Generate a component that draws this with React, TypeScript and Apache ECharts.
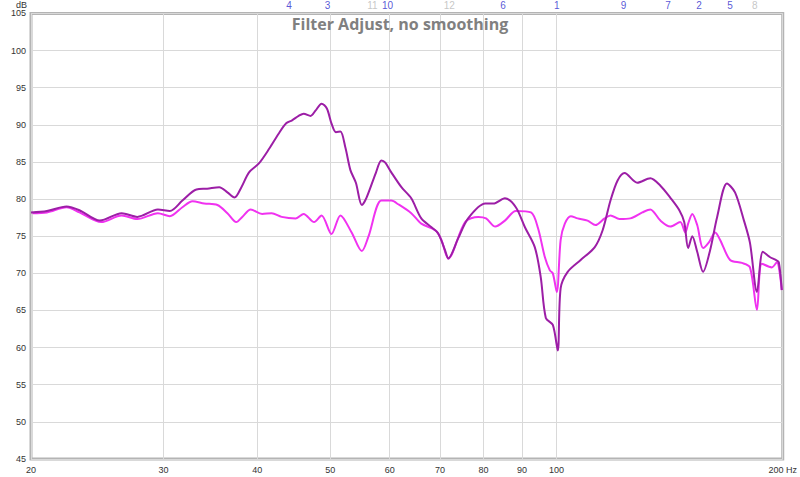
import React, { useEffect, useRef } from 'react';
import * as echarts from 'echarts';

const xTickValues = [20, 30, 40, 50, 60, 70, 80, 90, 100, 200];
const yMin = 45;
const yMax = 105;
const yStep = 5;

const freqA = [20.0, 21.0, 22.3, 23.2, 24.7, 26.4, 27.7, 29.5, 30.6, 31.8, 33.2, 34.3, 35.6, 36.5, 37.3, 38.1, 39.0, 40.2, 41.5, 42.7, 43.7, 44.5, 45.4, 46.1, 47.1, 47.8, 48.7, 49.5, 50.2, 50.9, 51.6, 52.4, 53.2, 54.1, 55.1, 55.9, 57.5, 58.5, 59.2, 60.3, 62.2, 64.1, 66.1, 68.2, 69.6, 71.1, 71.8, 74.0, 76.3, 80.4, 82.4, 85.4, 88.3, 90.8, 93.6, 95.3, 96.8, 98.9, 100.4, 101.3, 103.5, 107.7, 112.4, 115.2, 118.0, 120.6, 123.2, 128.1, 133.3, 137.5, 141.7, 145.7, 147.9, 149.7, 151.6, 153.9, 156.7, 160.1, 163.6, 168.6, 172.8, 177.6, 180.9, 184.8, 188.2, 192.2, 195.8, 197.6, 199.4];
const dbA = [78.2, 78.4, 79.0, 78.5, 77.1, 78.1, 77.6, 78.6, 78.4, 79.8, 81.3, 81.4, 81.6, 80.9, 80.2, 81.6, 83.6, 84.8, 86.8, 88.8, 90.2, 90.6, 91.2, 91.5, 91.2, 91.9, 92.85, 92.2, 90.2, 89.0, 89.1, 86.9, 83.9, 82.2, 79.2, 80.2, 83.5, 85.2, 84.9, 83.6, 81.6, 80.1, 77.4, 76.2, 75.4, 73.1, 72.0, 74.7, 77.4, 79.4, 79.4, 80.1, 78.9, 76.2, 73.5, 69.5, 64.0, 63.05, 59.6, 68.0, 70.2, 71.8, 73.5, 75.8, 79.8, 82.5, 83.5, 82.2, 82.8, 81.8, 80.2, 78.5, 76.9, 73.4, 75.0, 72.9, 70.2, 73.1, 77.6, 82.1, 80.9, 77.1, 74.1, 67.5, 72.9, 72.2, 71.8, 71.5, 67.75];

const freqB = [20.1, 21.0, 22.3, 23.2, 24.8, 26.4, 27.7, 29.5, 30.6, 31.8, 32.8, 34.0, 35.4, 36.5, 37.5, 38.2, 39.2, 40.6, 41.8, 43.1, 45.0, 46.1, 47.6, 48.7, 50.2, 51.6, 53.4, 55.1, 56.2, 58.5, 60.3, 61.6, 64.1, 66.1, 69.0, 70.3, 71.8, 75.6, 78.7, 80.6, 82.9, 85.4, 88.3, 92.5, 94.5, 96.5, 98.0, 98.9, 100.1, 101.3, 102.6, 104.5, 106.7, 110.0, 112.7, 115.9, 118.0, 121.3, 125.4, 130.1, 133.3, 137.5, 141.7, 146.1, 148.4, 149.7, 151.6, 153.9, 156.7, 159.6, 162.6, 165.1, 170.2, 176.5, 180.9, 184.8, 187.6, 193.4, 196.4, 199.4];
const dbB = [78.1, 78.2, 78.9, 78.2, 76.9, 77.8, 77.3, 78.1, 77.7, 78.9, 79.7, 79.4, 79.2, 78.1, 76.9, 77.6, 78.6, 78.0, 78.1, 77.6, 77.4, 78.0, 76.9, 77.8, 75.3, 77.8, 75.5, 73.0, 74.9, 79.8, 79.8, 79.3, 78.1, 76.7, 75.8, 74.5, 72.0, 76.9, 77.6, 77.4, 76.3, 77.1, 78.4, 78.2, 76.1, 72.2, 70.4, 70.0, 67.5, 74.5, 76.7, 77.7, 77.4, 77.1, 76.5, 77.4, 77.8, 77.3, 77.4, 78.2, 78.6, 77.1, 76.3, 76.9, 75.5, 76.7, 78.0, 76.5, 73.4, 74.2, 75.5, 74.5, 71.8, 71.4, 70.8, 65.1, 71.3, 70.8, 71.5, 67.75];

const filterLabels = ['4', '3', '11', '10', '12', '6', '1', '9', '7', '2', '5', '8'];
const filterFreqs = [44.1, 49.6, 56.9, 59.6, 72.0, 84.9, 100.1, 122.8, 140.8, 154.8, 170.2, 183.6];
const filterActive = [true, true, false, true, false, true, true, true, true, true, true, false];

export default function App() {
  const ref = useRef<HTMLDivElement>(null);
  useEffect(() => {
    document.body.style.margin = '0';
    if (!ref.current) return;
    const chart = echarts.init(ref.current, null, { renderer: 'svg' });
    const tickLog = xTickValues.map((v) => Math.log10(v));
    const option = {
      animation: false,
      backgroundColor: '#ffffff',
      title: {
        text: 'Filter Adjust, no smoothing',
        left: 'center',
        top: 11,
        textStyle: { fontSize: 16, fontWeight: 'bold', color: '#808080', fontFamily: 'Open Sans' },
      },
      grid: {
        left: 31,
        right: 14,
        top: 13,
        bottom: 18,
        show: true,
        borderColor: '#b4b4b4',
        borderWidth: 3,
        backgroundColor: '#ffffff',
      },
      xAxis: {
        type: 'value',
        min: Math.log10(20),
        max: Math.log10(200),
        axisLine: { show: false },
        axisTick: { show: false, customValues: tickLog },
        axisLabel: {
          customValues: tickLog,
          margin: 6,
          fontSize: 9,
          color: '#333',
          fontFamily: 'Liberation Sans',
          formatter: (v: number) => {
            const f = Math.round(Math.pow(10, v));
            return f === 200 ? '200 Hz' : String(f);
          },
        },
        splitLine: { show: true, lineStyle: { color: '#d9d9d9', width: 1 } },
      },
      yAxis: {
        type: 'value',
        min: yMin,
        max: yMax,
        interval: yStep,
        name: 'dB',
        nameLocation: 'end',
        nameGap: 3,
        nameTextStyle: { align: 'right', fontSize: 9, color: '#333', fontFamily: 'Liberation Sans', padding: [0, 4, 0, 0] },
        axisLine: { show: false },
        axisTick: { show: false },
        axisLabel: { margin: 5, fontSize: 9, color: '#333', fontFamily: 'Liberation Sans' },
        splitLine: { show: true, lineStyle: { color: '#d9d9d9', width: 1 } },
      },
      series: [
        {
          name: 'B',
          type: 'line',
          data: freqB.map((f, i) => [Math.log10(f), dbB[i]]),
          showSymbol: false,
          smooth: 0.3,
          lineStyle: { color: '#f032f0', width: 2 },
          itemStyle: { color: '#f032f0' },
          z: 3,
        },
        {
          name: 'A',
          type: 'line',
          data: freqA.map((f, i) => [Math.log10(f), dbA[i]]),
          showSymbol: false,
          smooth: 0.3,
          lineStyle: { color: '#9c1ea6', width: 2 },
          itemStyle: { color: '#9c1ea6' },
          z: 4,
        },
        {
          name: 'filters',
          type: 'scatter',
          symbolSize: 0,
          clip: false,
          silent: true,
          data: filterFreqs.map((f, i) => ({
            value: [Math.log10(f), yMax],
            name: filterLabels[i],
            label: { color: filterActive[i] ? '#2b2bcc' : '#b8b8b8' },
          })),
          label: {
            show: true,
            position: 'top',
            distance: 3,
            fontSize: 10,
            fontFamily: 'Liberation Sans',
            formatter: (p: any) => p.name,
          },
          z: 5,
        },
      ],
    };
    chart.setOption(option as any);
    return () => chart.dispose();
  }, []);
  return <div ref={ref} style={{ width: 800, height: 477 }} />;
}
